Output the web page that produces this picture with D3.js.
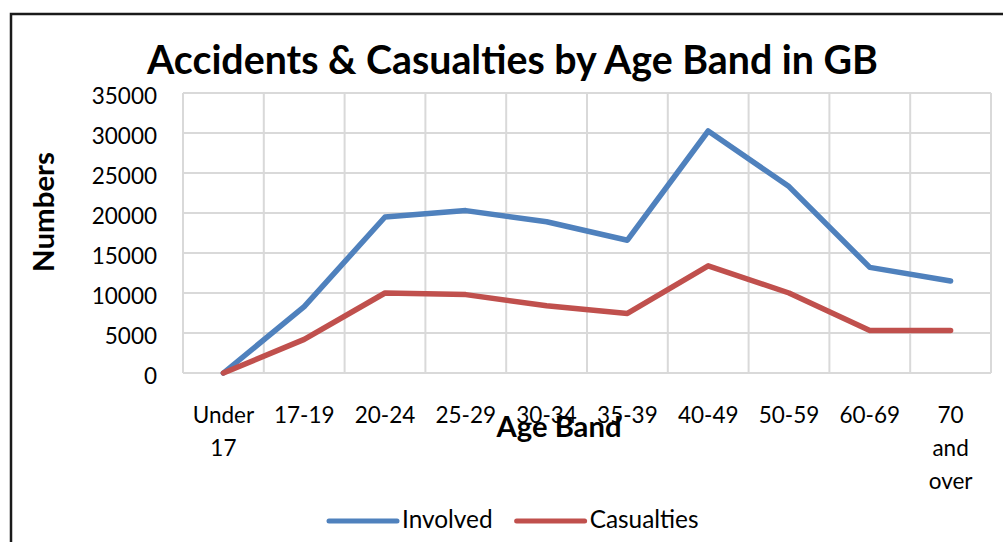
<!DOCTYPE html>
<html>
<head>
<meta charset="utf-8">
<script src="https://cdn.jsdelivr.net/npm/d3@7"></script>
<style>
  html, body { margin: 0; padding: 0; background: #fff; }
  svg { display: block; }
  text { font-family: Lato, "Open Sans", sans-serif; fill: #000; }
</style>
</head>
<body>
<svg id="chart" width="1003" height="542"></svg>
<script>
// ---- data ----
const categories = ["Under 17", "17-19", "20-24", "25-29", "30-34", "35-39", "40-49", "50-59", "60-69", "70 and over"];
const involved   = [0, 8300, 19500, 20300, 18900, 16600, 30250, 23300, 13200, 11500];
const casualties = [0, 4200, 10000, 9800, 8400, 7450, 13400, 10000, 5300, 5300];
const yTicks = [0, 5000, 10000, 15000, 20000, 25000, 30000, 35000];
const seriesNames = ["Involved", "Casualties"];
const seriesColors = ["#4f81bd", "#c0504d"];
const titleText = "Accidents & Casualties by Age Band in GB";
const xTitle = "Age Band";
const yTitle = "Numbers";

// ---- layout ----
const W = 1003, H = 542;
const plot = { left: 183, right: 991, top: 93, bottom: 373 };
const svg = d3.select("#chart");
svg.append("rect").attr("width", W).attr("height", H).attr("fill", "#fff");

function fitWidth(sel, target) {
  const w = sel.node().getComputedTextLength();
  const fs = parseFloat(sel.attr("font-size"));
  sel.attr("font-size", (fs * target / w).toFixed(2));
}

// outer frame (left + top edges visible)
svg.append("path")
  .attr("d", `M11,${H} L11,14 L${W},14`)
  .attr("fill", "none").attr("stroke", "#1a1a1a").attr("stroke-width", 2.5);

const x = d3.scaleBand().domain(categories).range([plot.left, plot.right]).padding(0);
const y = d3.scaleLinear().domain([0, 35000]).range([plot.bottom, plot.top]);
const cx = c => x(c) + x.bandwidth() / 2;

// gridlines
const grid = svg.append("g").attr("stroke", "#d9d9d9").attr("stroke-width", 2);
grid.selectAll("line.h").data(yTicks).join("line")
  .attr("x1", plot.left).attr("x2", plot.right)
  .attr("y1", d => y(d)).attr("y2", d => y(d));
grid.selectAll("line.v").data(categories.map(c => x(c)).concat([plot.right])).join("line")
  .attr("x1", d => d).attr("x2", d => d)
  .attr("y1", plot.top).attr("y2", plot.bottom);

// y axis
const yAxis = svg.append("g").attr("transform", `translate(${plot.left},0)`)
  .call(d3.axisLeft(y).tickValues(yTicks).tickSize(0).tickPadding(26).tickFormat(d3.format("d")));
yAxis.select(".domain").remove();
yAxis.selectAll("text").attr("font-size", 22.5).attr("font-family", "Lato").attr("fill", "#000")
  .attr("dy", "0.45em");

// x axis
const xAxis = svg.append("g").attr("transform", `translate(0,${plot.bottom})`)
  .call(d3.axisBottom(x).tickSize(0).tickFormat(""));
xAxis.select(".domain").remove();
xAxis.selectAll(".tick").each(function(d) {
  const t = d3.select(this).append("text")
    .attr("font-size", 22.5).attr("font-family", "Lato").attr("fill", "#000")
    .attr("text-anchor", "middle").attr("y", 50);
  d.split(" ").forEach((word, i) => {
    t.append("tspan").attr("x", 0).attr("dy", i === 0 ? 0 : 33).text(word);
  });
});

// lines
const line = d3.line().x((d, i) => cx(categories[i])).y(d => y(d));
[involved, casualties].forEach((vals, k) => {
  svg.append("path").datum(vals)
    .attr("d", line)
    .attr("fill", "none").attr("stroke", seriesColors[k])
    .attr("stroke-width", 5.5).attr("stroke-linejoin", "round").attr("stroke-linecap", "round");
});

// title
const title = svg.append("text").attr("x", 512.5).attr("y", 74)
  .attr("text-anchor", "middle").attr("font-weight", "bold").attr("font-size", 34)
  .text(titleText);
fitWidth(title, 731);

// axis titles
const xt = svg.append("text").attr("x", 559).attr("y", 437)
  .attr("text-anchor", "middle").attr("font-weight", "bold").attr("font-size", 24)
  .text(xTitle);
fitWidth(xt, 125);

const yt = svg.append("text")
  .attr("transform", "translate(54,212) rotate(-90)")
  .attr("text-anchor", "middle").attr("font-weight", "bold").attr("font-size", 24)
  .text(yTitle);
fitWidth(yt, 120);

// legend
const legend = svg.append("g");
let lx = 329;
seriesNames.forEach((name, k) => {
  legend.append("line")
    .attr("x1", lx).attr("x2", lx + 68).attr("y1", 521).attr("y2", 521)
    .attr("stroke", seriesColors[k]).attr("stroke-width", 5).attr("stroke-linecap", "round");
  const t = legend.append("text").attr("x", lx + 73).attr("y", 528)
    .attr("font-size", 24.4).text(name);
  lx = lx + 73 + t.node().getComputedTextLength() + 24;
});
</script>
</body>
</html>
